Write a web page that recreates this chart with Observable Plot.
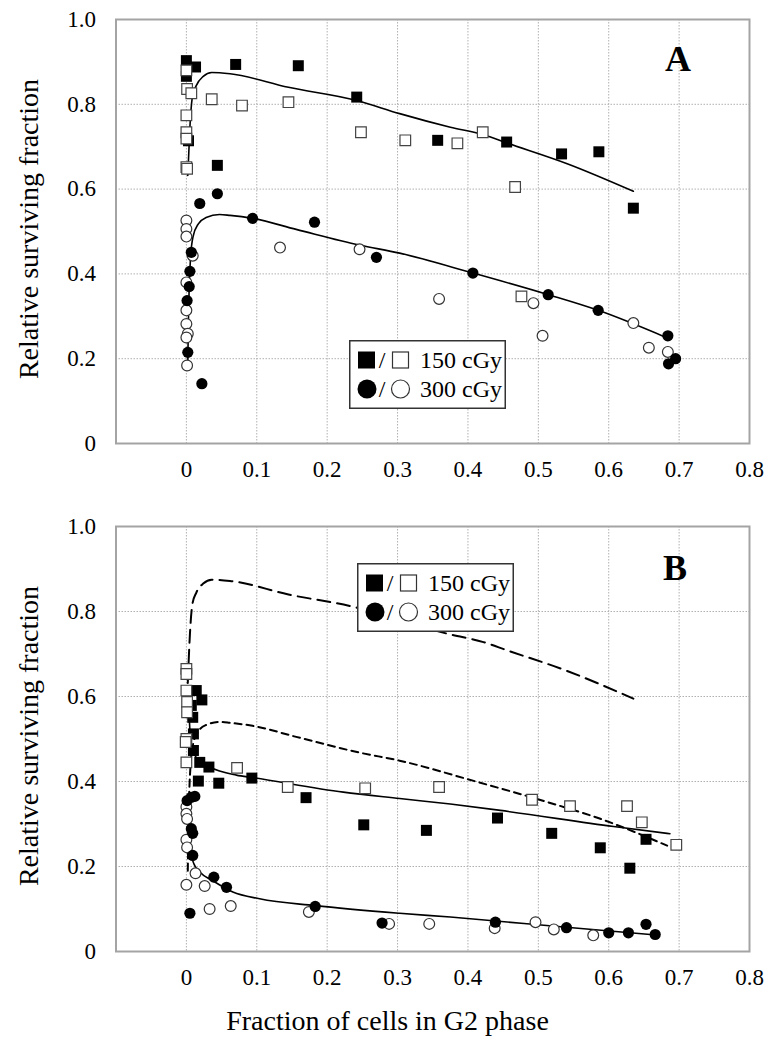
<!DOCTYPE html>
<html><head><meta charset="utf-8">
<script src="https://cdn.jsdelivr.net/npm/d3@7"></script>
<script src="https://cdn.jsdelivr.net/npm/@observablehq/plot@0.6"></script>
<style>
body{margin:0;background:#fff;font-family:"Liberation Serif","Times New Roman",serif;}
#wrap{position:relative;width:775px;height:1050px;overflow:hidden;}
.abs{position:absolute;}
.ytitle{position:absolute;width:400px;height:28px;line-height:28px;font-size:28px;text-align:center;transform:rotate(-90deg);white-space:nowrap;}
.letter{position:absolute;width:60px;height:36px;line-height:36px;font-size:36px;font-weight:bold;text-align:center;}
</style></head><body>
<div id="wrap"></div>
<script>
// ---- axis ticks ----
const xTicks = [0, 0.1, 0.2, 0.3, 0.4, 0.5, 0.6, 0.7, 0.8];
const yTicks = [0, 0.2, 0.4, 0.6, 0.8, 1.0];
const xGrid = [0, 0.1, 0.2, 0.3, 0.4, 0.5, 0.6, 0.7];
const yGrid = [0.2, 0.4, 0.6, 0.8];
const legendLabels = ["150 cGy", "300 cGy"];
const xTitle = "Fraction of cells in G2 phase";
const yTitle = "Relative surviving fraction";

// ---- Panel A ----
const sqFillA = [[0.000,0.903],[0.000,0.866],[0.013,0.888],[0.003,0.714],[0.070,0.894],[0.159,0.891],[0.242,0.817],[0.357,0.715],[0.044,0.656],[0.455,0.711],[0.533,0.683],[0.586,0.688],[0.635,0.555]];
const sqOpenA = [[0.000,0.880],[0.001,0.836],[0.007,0.826],[0.036,0.812],[0.079,0.797],[0.145,0.805],[0.000,0.774],[0.000,0.734],[0.000,0.719],[0.000,0.652],[0.001,0.648],[0.248,0.734],[0.311,0.715],[0.385,0.708],[0.421,0.734],[0.467,0.605],[0.476,0.347]];
const ciFillA = [[0.019,0.566],[0.044,0.589],[0.094,0.531],[0.182,0.522],[0.007,0.451],[0.270,0.439],[0.005,0.406],[0.004,0.370],[0.001,0.337],[0.002,0.215],[0.022,0.141],[0.407,0.402],[0.514,0.351],[0.585,0.314],[0.684,0.254],[0.695,0.200],[0.685,0.188]];
const ciOpenA = [[0.000,0.526],[0.000,0.506],[0.000,0.488],[0.009,0.443],[0.133,0.462],[0.246,0.458],[0.000,0.380],[0.000,0.314],[0.000,0.282],[0.002,0.259],[0.000,0.250],[0.001,0.184],[0.359,0.341],[0.493,0.331],[0.506,0.254],[0.635,0.284],[0.657,0.226],[0.684,0.216]];
const fitA150 = [[0.002,0.632],[0.005,0.746],[0.0085,0.817],[0.014,0.844],[0.024,0.866],[0.036,0.875],[0.062,0.872],[0.145,0.840],[0.242,0.809],[0.303,0.778],[0.375,0.746],[0.422,0.728],[0.455,0.709],[0.541,0.660],[0.635,0.595]];
const fitA300 = [[0.002,0.190],[0.003,0.300],[0.004,0.370],[0.006,0.440],[0.0095,0.488],[0.017,0.518],[0.028,0.533],[0.047,0.540],[0.062,0.538],[0.094,0.531],[0.156,0.505],[0.246,0.468],[0.303,0.449],[0.407,0.402],[0.514,0.351],[0.585,0.314],[0.683,0.249]];

// ---- Panel B ----
const sqFillB = [[0.014,0.614],[0.022,0.592],[0.007,0.579],[0.009,0.551],[0.010,0.512],[0.010,0.473],[0.019,0.445],[0.032,0.434],[0.017,0.401],[0.046,0.396],[0.093,0.408],[0.170,0.362],[0.252,0.298],[0.341,0.285],[0.442,0.314],[0.519,0.278],[0.588,0.244],[0.630,0.196],[0.653,0.264]];
const sqOpenB = [[0.000,0.665],[0.000,0.653],[0.000,0.614],[0.001,0.587],[0.001,0.563],[0.000,0.500],[-0.001,0.493],[0.000,0.445],[0.072,0.432],[0.144,0.387],[0.254,0.384],[0.359,0.387],[0.491,0.357],[0.545,0.342],[0.626,0.342],[0.647,0.304],[0.696,0.251]];
const ciFillB = [[0.001,0.355],[0.007,0.363],[0.012,0.365],[0.007,0.289],[0.009,0.278],[0.009,0.226],[0.039,0.175],[0.057,0.151],[0.183,0.106],[0.005,0.090],[0.278,0.067],[0.439,0.069],[0.540,0.056],[0.600,0.044],[0.628,0.044],[0.653,0.064],[0.666,0.040]];
const ciOpenB = [[0.000,0.340],[0.000,0.324],[0.001,0.312],[0.000,0.263],[0.001,0.245],[0.013,0.184],[0.000,0.157],[0.026,0.154],[0.033,0.100],[0.063,0.107],[0.174,0.093],[0.288,0.065],[0.345,0.065],[0.438,0.055],[0.496,0.069],[0.522,0.052],[0.578,0.038]];
const fitB150 = [[0.003,0.600],[0.005,0.520],[0.008,0.478],[0.016,0.452],[0.033,0.434],[0.071,0.415],[0.095,0.409],[0.223,0.375],[0.303,0.360],[0.375,0.347],[0.446,0.332],[0.607,0.294],[0.687,0.277]];
const fitB300 = [[0.003,0.360],[0.004,0.290],[0.006,0.235],[0.011,0.205],[0.019,0.187],[0.037,0.167],[0.066,0.140],[0.104,0.124],[0.183,0.108],[0.303,0.090],[0.375,0.081],[0.540,0.057],[0.659,0.040]];

const fmt = d => d === 0 ? "0" : d.toFixed(1);
const X = d => d[0], Y = d => d[1];

function makePanel({sqFill, sqOpen, ciFill, ciOpen, solid, dashed, height, mt, mb}) {
  const marks = [
    Plot.gridX(xGrid, {stroke: "#b0b0b0", strokeOpacity: 1, strokeWidth: 1, strokeDasharray: "1.5,1.5"}),
    Plot.gridY(yGrid, {stroke: "#b0b0b0", strokeOpacity: 1, strokeWidth: 1, strokeDasharray: "1.5,1.5"}),
    Plot.frame({stroke: "#a4a4a4", strokeWidth: 2})
  ];
  if (dashed) {
    marks.push(Plot.line(dashed[0], {x: X, y: Y, curve: "monotone-x", stroke: "black", strokeWidth: 2, strokeDasharray: "13,7"}));
    marks.push(Plot.line(dashed[1], {x: X, y: Y, curve: "monotone-x", stroke: "black", strokeWidth: 2, strokeDasharray: "7,5"}));
  }
  for (const s of solid) marks.push(Plot.line(s, {x: X, y: Y, curve: "monotone-x", stroke: "black", strokeWidth: 1.6}));
  marks.push(
    Plot.dot(sqFill, {x: X, y: Y, symbol: "square", r: 6.2, fill: "black", stroke: "none"}),
    Plot.dot(sqOpen, {x: X, y: Y, symbol: "square", r: 6.0, fill: "white", stroke: "#444", strokeWidth: 1.2}),
    Plot.dot(ciOpen, {x: X, y: Y, symbol: "circle", r: 5.4, fill: "white", stroke: "#333", strokeWidth: 1.2}),
    Plot.dot(ciFill, {x: X, y: Y, symbol: "circle", r: 5.6, fill: "black", stroke: "none"})
  );
  return Plot.plot({
    width: 775, height,
    marginLeft: 115.5, marginRight: 26, marginTop: mt, marginBottom: mb,
    style: {fontFamily: '"Liberation Serif","Times New Roman",serif', fontSize: "23px", color: "black", background: "transparent", overflow: "visible"},
    x: {domain: [-0.1, 0.8], ticks: xTicks, tickFormat: fmt, tickSize: 0, tickPadding: 17, label: null},
    y: {domain: [0, 1], ticks: yTicks, tickFormat: fmt, tickSize: 0, tickPadding: 20, label: null},
    marks
  });
}

function legendSvg(w, h) {
  const ns = "http://www.w3.org/2000/svg";
  const svg = d3.create("svg").attr("width", w).attr("height", h).style("display", "block")
    .style("font-family", '"Liberation Serif","Times New Roman",serif').style("font-size", "24px");
  svg.append("rect").attr("x", 0.75).attr("y", 0.75).attr("width", w - 1.5).attr("height", h - 1.5).attr("fill", "white").attr("stroke", "#333").attr("stroke-width", 1.5);
  const rows = [20, 49];
  // row 1 : squares
  svg.append("rect").attr("x", 9).attr("y", rows[0] - 8.5).attr("width", 17).attr("height", 17).attr("fill", "black");
  svg.append("text").attr("x", 33).attr("y", rows[0] + 8).attr("text-anchor", "middle").text("/");
  svg.append("rect").attr("x", 43.5).attr("y", rows[0] - 8).attr("width", 16).attr("height", 16).attr("fill", "white").attr("stroke", "#333").attr("stroke-width", 1.2);
  svg.append("text").attr("x", 71).attr("y", rows[0] + 8).text(legendLabels[0]);
  // row 2 : circles
  svg.append("circle").attr("cx", 18).attr("cy", rows[1]).attr("r", 9.5).attr("fill", "black");
  svg.append("text").attr("x", 33).attr("y", rows[1] + 8).attr("text-anchor", "middle").text("/");
  svg.append("circle").attr("cx", 51.5).attr("cy", rows[1]).attr("r", 9).attr("fill", "white").attr("stroke", "#333").attr("stroke-width", 1.2);
  svg.append("text").attr("x", 71).attr("y", rows[1] + 8).text(legendLabels[1]);
  return svg.node();
}

const wrap = document.getElementById("wrap");
function place(node, left, top) {
  const d = document.createElement("div");
  d.className = "abs"; d.style.left = left + "px"; d.style.top = top + "px";
  d.appendChild(node); wrap.appendChild(d); return d;
}

place(makePanel({sqFill: sqFillA, sqOpen: sqOpenA, ciFill: ciFillA, ciOpen: ciOpenA, solid: [fitA150, fitA300], dashed: null, height: 500, mt: 19, mb: 57}), 0, 0);
place(makePanel({sqFill: sqFillB, sqOpen: sqOpenB, ciFill: ciFillB, ciOpen: ciOpenB, solid: [fitB150, fitB300], dashed: [fitA150, fitA300], height: 490, mt: 26, mb: 39}), 0, 500);

place(legendSvg(157, 69), 349, 340);
place(legendSvg(157, 69), 357, 563);

function addText(cls, txt, left, top) {
  const d = document.createElement("div");
  d.className = cls; d.textContent = txt; d.style.left = left + "px"; d.style.top = top + "px";
  wrap.appendChild(d); return d;
}
addText("letter", "A", 648, 41);
addText("letter", "B", 645, 550);
addText("ytitle", yTitle, 28.5 - 200, 229 - 14);
addText("ytitle", yTitle, 28.5 - 200, 736 - 14);
const xt = document.createElement("div");
xt.className = "abs"; xt.textContent = xTitle;
xt.style.cssText = "position:absolute;left:0;top:1007px;width:775px;text-align:center;font-size:28px;line-height:28px;";
wrap.appendChild(xt);
</script>
</body></html>
